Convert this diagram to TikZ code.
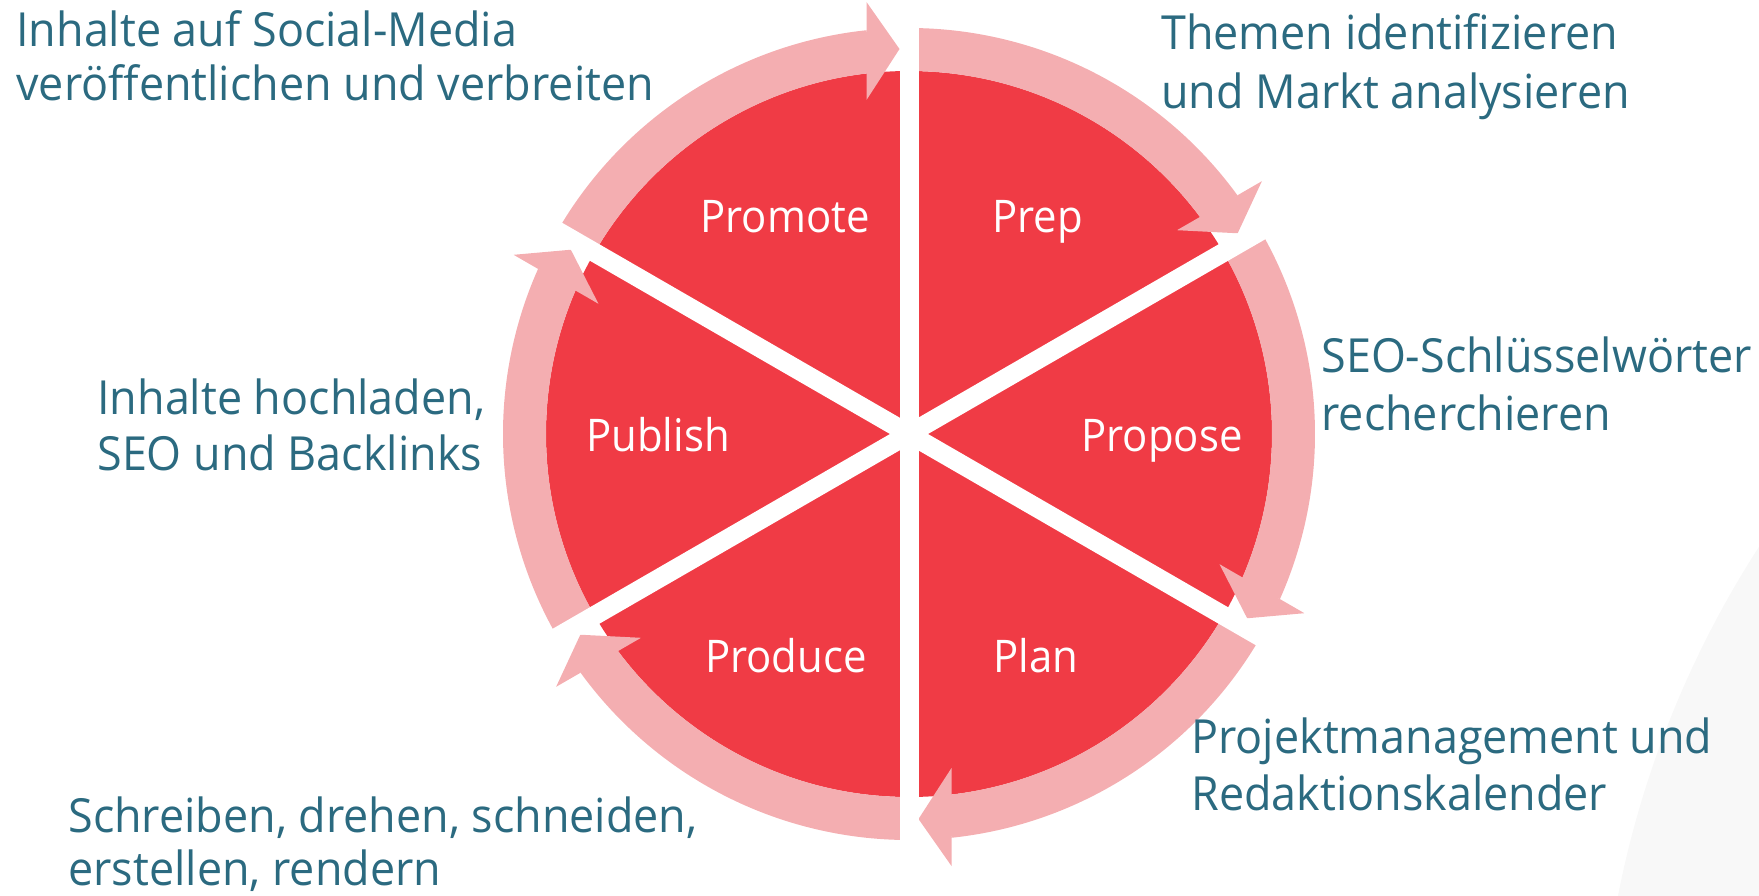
\documentclass[tikz,border=0pt]{standalone}
\usepackage{fontspec}
\setmainfont[FakeStretch=0.93]{Open Sans}
\newfontfamily\descfont[FakeStretch=0.955]{Open Sans}
\definecolor{wheelred}{RGB}{240,59,69}
\definecolor{bandpink}{RGB}{244,174,177}
\definecolor{textteal}{RGB}{43,106,128}
\definecolor{bggray}{RGB}{248,248,248}
\tikzset{
  desc/.style={text=textteal, font=\descfont\fontsize{23.5}{28}\selectfont, anchor=base west, inner sep=0pt},
  seg/.style={text=white, font=\fontsize{22.5}{27}\selectfont, inner sep=0pt},
  band/.style={fill=bandpink},
  gap/.style={fill=white}
}
\begin{document}
\begin{tikzpicture}[x=0.5pt,y=0.5pt]
\useasboundingbox (-909,-461) rectangle (850,434);
\begin{scope}
  \clip (-909,-461) rectangle (850,434);
  \fill[bggray] (1695,-657) circle (1005);
\end{scope}
% red wheel
\fill[wheelred] (0,0) circle (363);
% arrows (clockwise), each arriving at gap \p
\foreach \p in {90,30,-30,-90,-150,150} {
  \path[band] (\p+60:406) arc[start angle=\p+60, end angle=\p+6, radius=406]
     -- (\p+6:363) arc[start angle=\p+6, end angle=\p+60, radius=363] -- cycle;
  \path[band, rotate=\p] (432,42.5) -- (385,9.5) -- (334,42.5) -- cycle;
}
% white gaps
\foreach \p in {90,30,-30,-90,-150,150} {
  \path[gap, rotate=\p] (0,-9.5) rectangle (420,9.5);
}
% segment labels
\node[seg, anchor=base east] (promote) at (-39,202) {Promote};
\node[seg, anchor=base west] (prep) at (83,202) {Prep};
\node[seg, anchor=base east] (propose) at (334,-17) {Propose};
\node[seg, anchor=base west] (publish) at (-323,-17) {Publish};
\node[seg, anchor=base east] (produce) at (-42,-238) {Produce};
\node[seg, anchor=base west] (plan) at (84,-238) {Plan};
% descriptions
\node[desc] (promA) at (-893,387) {Inhalte auf Social-Media};
\node[desc] (promB) at (-893,333) {veröffentlichen und verbreiten};
\node[desc] (prepA) at (252,384) {Themen identifizieren};
\node[desc] (prepB) at (252,326) {und Markt analysieren};
\node[desc] (propA) at (412,62) {SEO-Schlüsselwörter};
\node[desc] (propB) at (412,4) {recherchieren};
\node[desc] (pubA) at (-812,20) {Inhalte hochladen,};
\node[desc] (pubB) at (-812,-36) {SEO und Backlinks};
\node[desc] (prodA) at (-841,-398) {Schreiben, drehen, schneiden,};
\node[desc] (prodB) at (-841,-451) {erstellen, rendern};
\node[desc] (planA) at (282,-319) {Projektmanagement und};
\node[desc] (planB) at (282,-376) {Redaktionskalender};
\end{tikzpicture}
\end{document}
